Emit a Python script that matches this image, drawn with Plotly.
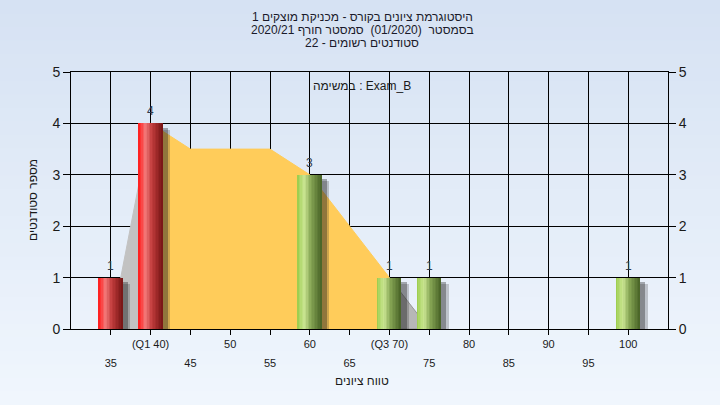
import plotly.graph_objects as go

# ---------------- data ----------------
bins = [35, 40, 60, 70, 75, 100]
counts = [1, 4, 3, 1, 1, 1]
q1 = 40
q3 = 70
curve_x = [35, 40, 45, 50, 55, 60, 65, 70, 75]
curve_y = [0, 4, 3.5, 3.5, 3.5, 3, 2, 1, 0]
major_ticks = [40, 50, 60, 70, 80, 90, 100]
major_labels = ["(Q1 40)", "50", "60", "(Q3 70)", "80", "90", "100"]
minor_ticks = [35, 45, 55, 65, 75, 85, 95]
minor_labels = ["35", "45", "55", "65", "75", "85", "95"]
y_ticks = [0, 1, 2, 3, 4, 5]

title_lines = [
    "היסטוגרמת ציונים בקורס - מכניקת מוצקים 1",
    "בסמסטר  (01/2020)  סמסטר חורף 2020/21",
    "סטודנטים רשומים - 22",
]
x_title = "טווח ציונים"
y_title = "מספר סטודנטים"
note = "במשימה : Exam_B"

FONT = "Arial, 'Liberation Sans', 'DejaVu Sans', sans-serif"

fig = go.Figure()

# ---------------- distribution outline (drawn between grid and bars) ----------------
def seg(lo, hi):
    pts = [(x, y) for x, y in zip(curve_x, curve_y) if lo <= x <= hi]
    return ("M %g,0 " % pts[0][0] + " ".join("L %g,%g" % p for p in pts)
            + " L %g,0 Z" % pts[-1][0])


shapes = []
for (lo, hi), col, lc in [((curve_x[0], q1), "#c2c2c2", "#c2c2c2"),
                          ((q1, q3), "#ffcc5a", "#ffcc5a"),
                          ((q3, curve_x[-1]), "#b7b7b7", "#959595")]:
    shapes.append(dict(type="path", xref="x", yref="y", path=seg(lo, hi),
                       fillcolor=col, line=dict(color=lc, width=1), layer="between"))

# ---------------- bars (cylinder look) ----------------
BW = 3.0
for dx, dy, a in [(0.95, 0.13, 0.22), (0.65, 0.09, 0.35)]:
    fig.add_trace(go.Bar(x=bins, y=[c - dy for c in counts], width=BW, offset=-BW / 2 + dx,
                         marker=dict(color=f"rgba(30,30,30,{a})", line=dict(width=0)),
                         hoverinfo="skip", showlegend=False))

red_stops = [(0.0, (255, 25, 25)), (0.12, (252, 60, 60)), (0.3, (242, 122, 122)),
             (0.55, (196, 62, 62)), (1.0, (118, 20, 20))]
green_stops = [(0.0, (152, 202, 72)), (0.12, (176, 216, 108)), (0.3, (202, 228, 146)),
               (0.55, (136, 168, 86)), (1.0, (72, 98, 38))]


def grad(stops, t):
    for (t0, c0), (t1, c1) in zip(stops[:-1], stops[1:]):
        if t0 <= t <= t1:
            f = (t - t0) / (t1 - t0)
            return "rgb(%d,%d,%d)" % tuple(round(a + (b - a) * f) for a, b in zip(c0, c1))
    return "rgb(%d,%d,%d)" % stops[-1][1]


N = 16
sw = BW / N
for i in range(N):
    t = (i + 0.5) / N
    cols = [grad(red_stops, t) if b <= q1 else grad(green_stops, t) for b in bins]
    fig.add_trace(go.Bar(x=bins, y=counts, width=sw * 1.05, offset=-BW / 2 + i * sw,
                         marker=dict(color=cols, line=dict(width=0)),
                         hoverinfo="skip", showlegend=False))

# helper traces for the secondary axes
fig.add_trace(go.Scatter(x=minor_ticks, y=[0] * len(minor_ticks), xaxis="x2", yaxis="y",
                         mode="markers", marker=dict(opacity=0), hoverinfo="skip",
                         showlegend=False))
fig.add_trace(go.Scatter(x=bins, y=counts, xaxis="x", yaxis="y2",
                         mode="markers", marker=dict(opacity=0), hoverinfo="skip",
                         showlegend=False))

# value labels
for b, c in zip(bins, counts):
    fig.add_annotation(x=b, y=c, text=str(c), showarrow=False, yshift=12,
                       xanchor="center", yanchor="middle",
                       font=dict(size=12, color="#2e3a4c", family=FONT))

tf = lambda s: dict(family=FONT, size=s, color="#1a1a1a")

fig.update_layout(
    width=720, height=405,
    margin=dict(l=71, r=52, t=72, b=76),
    paper_bgcolor="#e3ecf8",
    plot_bgcolor="#b4b4b4",
    barmode="overlay",
    bargap=0,
    showlegend=False,
    font=dict(family=FONT, color="#1a1a1a"),
    xaxis=dict(range=[30, 105], tickmode="array", tickvals=major_ticks, ticktext=major_labels,
               ticks="outside", ticklen=5, tickcolor="black", showgrid=True, gridcolor="black",
               gridwidth=1,
               minor=dict(tickvals=minor_ticks, ticks="outside", ticklen=5, tickcolor="black",
                          showgrid=True, gridcolor="black", gridwidth=1),
               showline=True, linecolor="black", mirror=True, zeroline=False, tickfont=tf(11)),
    xaxis2=dict(range=[30, 105], overlaying="x", side="bottom", tickmode="array",
                tickvals=minor_ticks, ticktext=minor_labels, ticks="", showgrid=False,
                showline=False, zeroline=False, ticklabelstandoff=26, tickfont=tf(11)),
    yaxis=dict(range=[0, 5], tickmode="array", tickvals=y_ticks, ticks="outside", ticklen=7,
               tickcolor="black", showgrid=True, gridcolor="black", gridwidth=1,
               showline=True, linecolor="black", mirror=True, zeroline=False, tickfont=tf(14)),
    yaxis2=dict(range=[0, 5], overlaying="y", side="right", tickmode="array",
                tickvals=y_ticks, ticks="outside", ticklen=7, tickcolor="black",
                showgrid=False, showline=True, linecolor="black", zeroline=False,
                tickfont=tf(14)),
)

# background gradient bands (paper)
top_c = (214, 226, 243)
bot_c = (240, 246, 253)
nb = 30
y0p = -76 / 257
y1p = 1 + 72 / 257
for k in range(nb):
    f = k / (nb - 1)
    c = tuple(round(b + (a - b) * f) for a, b in zip(top_c, bot_c))
    ya = y0p + (y1p - y0p) * k / nb
    yb = y0p + (y1p - y0p) * (k + 1) / nb + 0.002
    shapes.append(dict(type="rect", xref="paper", yref="paper", x0=-71 / 597, x1=1 + 52 / 597,
                       y0=ya, y1=yb, fillcolor="rgb(%d,%d,%d)" % c, line=dict(width=0),
                       layer="below"))
fig.update_layout(shapes=shapes)

# titles
for line, ypix in zip(title_lines, [17, 30, 43]):
    fig.add_annotation(text=line, xref="paper", yref="paper", x=(362 - 71) / 597,
                       y=(329 - ypix) / 257, xanchor="center", yanchor="middle",
                       showarrow=False, font=dict(size=12, color="#1a1a2a", family=FONT))

fig.add_annotation(text=note, xref="paper", yref="paper", x=(362 - 71) / 597,
                   y=(329 - 86) / 257, xanchor="center", yanchor="middle", showarrow=False,
                   font=dict(size=12, color="#1a1a1a", family=FONT))
fig.add_annotation(text=x_title, xref="paper", yref="paper", x=(362 - 71) / 597,
                   y=(329 - 381) / 257, xanchor="center", yanchor="middle", showarrow=False,
                   font=dict(size=12, color="#1a1a1a", family=FONT))
fig.add_annotation(text=y_title, xref="paper", yref="paper", x=(33 - 71) / 597,
                   y=(329 - 200) / 257, xanchor="center", yanchor="middle", showarrow=False,
                   textangle=-90, font=dict(size=12, color="#1a1a1a", family=FONT))

fig.write_html("out.html", config={"displayModeBar": False},
               post_script="document.body.style.margin='0';")
